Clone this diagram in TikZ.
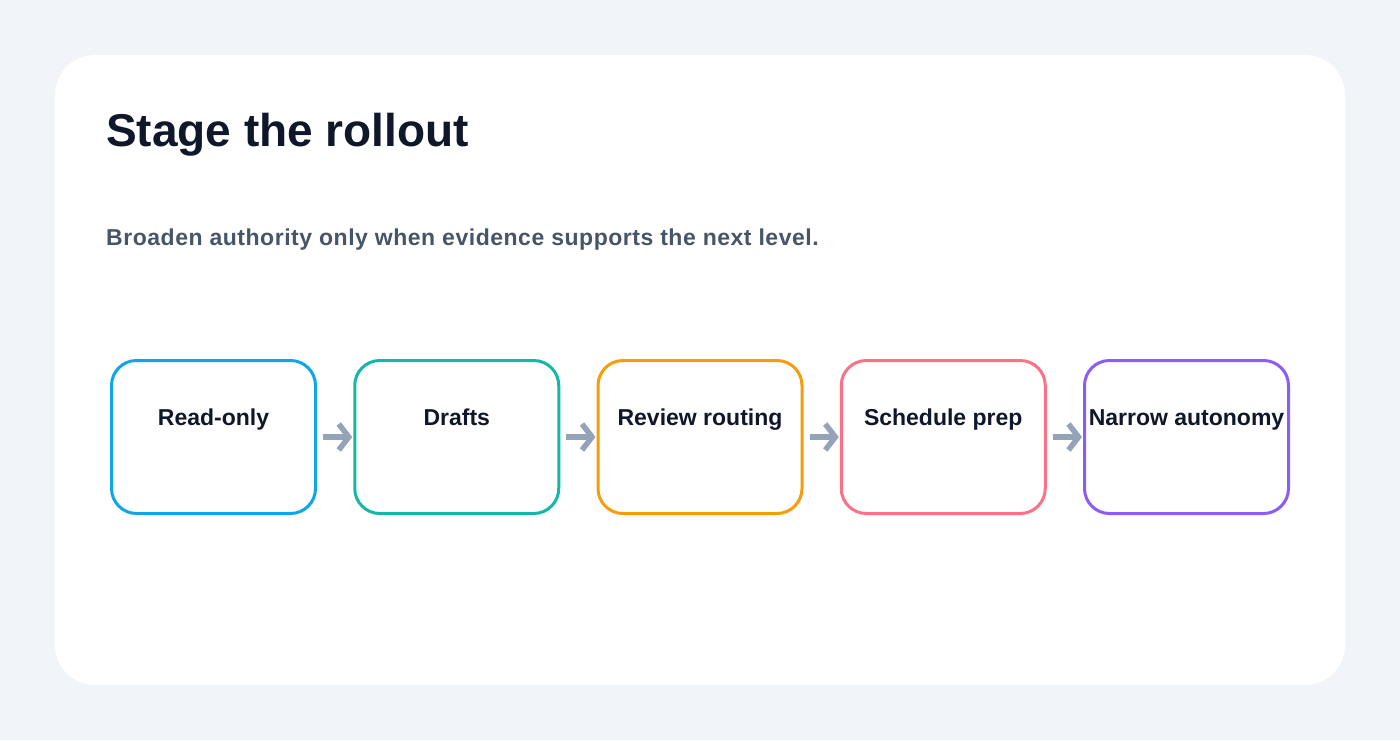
\documentclass[tikz,border=0pt]{standalone}
\usepackage{fontspec}
\setmainfont{Liberation Sans}
\usepackage{xcolor}
\usetikzlibrary{
  arrows.meta,
  positioning
}
\definecolor{pagebg}{HTML}{F1F4F8}
\definecolor{inkdark}{HTML}{0F172A}
\definecolor{inkgrey}{HTML}{475569}
\definecolor{arrowgrey}{HTML}{94A3B8}
\definecolor{stageblue}{HTML}{0EA5E9}
\definecolor{stageteal}{HTML}{14B8A6}
\definecolor{stageorange}{HTML}{F59E0B}
\definecolor{stagepink}{HTML}{FB7185}
\definecolor{stagepurple}{HTML}{8B5CF6}

\begin{document}
\begin{tikzpicture}[x=1pt, y=-1pt,
    node distance=36.25pt,
    stage/.style={draw, fill=white, rounded corners=25pt, line width=3pt,
      minimum width=204pt, minimum height=153pt, inner sep=0pt,
      text height=16pt, text depth=40pt, text=inkdark,
      font=\fontsize{23}{27}\selectfont\bfseries},
    flow/.style={draw=arrowgrey, line width=5.5pt, shorten <=6pt, shorten >=1pt,
      -{Straight Barb[length=10pt, width=26pt]}}]
% page and card
\fill[pagebg] (0,0) rectangle (1400,740);
\fill[white, rounded corners=40pt] (55,55) rectangle (1345,685);
\useasboundingbox (0,0) rectangle (1400,740);

% heading
\node (title) [anchor=base west, inner sep=0pt, text=inkdark,
  font=\fontsize{46}{50}\selectfont\bfseries] at (106,146) {Stage the rollout};
\node (subtitle) [anchor=base west, inner sep=0pt, text=inkgrey,
  font=\fontsize{23}{27}\selectfont\bfseries\addfontfeature{LetterSpace=2.3}] at (106,245)
  {Broaden authority only when evidence supports the next level.};

% stages
\node (readonly) [stage, draw=stageblue] at (213.5,437) {Read-only};
\node (drafts) [stage, draw=stageteal, right=of readonly] {Drafts};
\node (review) [stage, draw=stageorange, right=of drafts] {Review routing};
\node (prep) [stage, draw=stagepink, right=of review] {Schedule prep};
\node (autonomy) [stage, draw=stagepurple, right=of prep] {Narrow autonomy};

\draw[flow] (readonly) -- (drafts);
\draw[flow] (drafts) -- (review);
\draw[flow] (review) -- (prep);
\draw[flow] (prep) -- (autonomy);
\end{tikzpicture}
\end{document}
